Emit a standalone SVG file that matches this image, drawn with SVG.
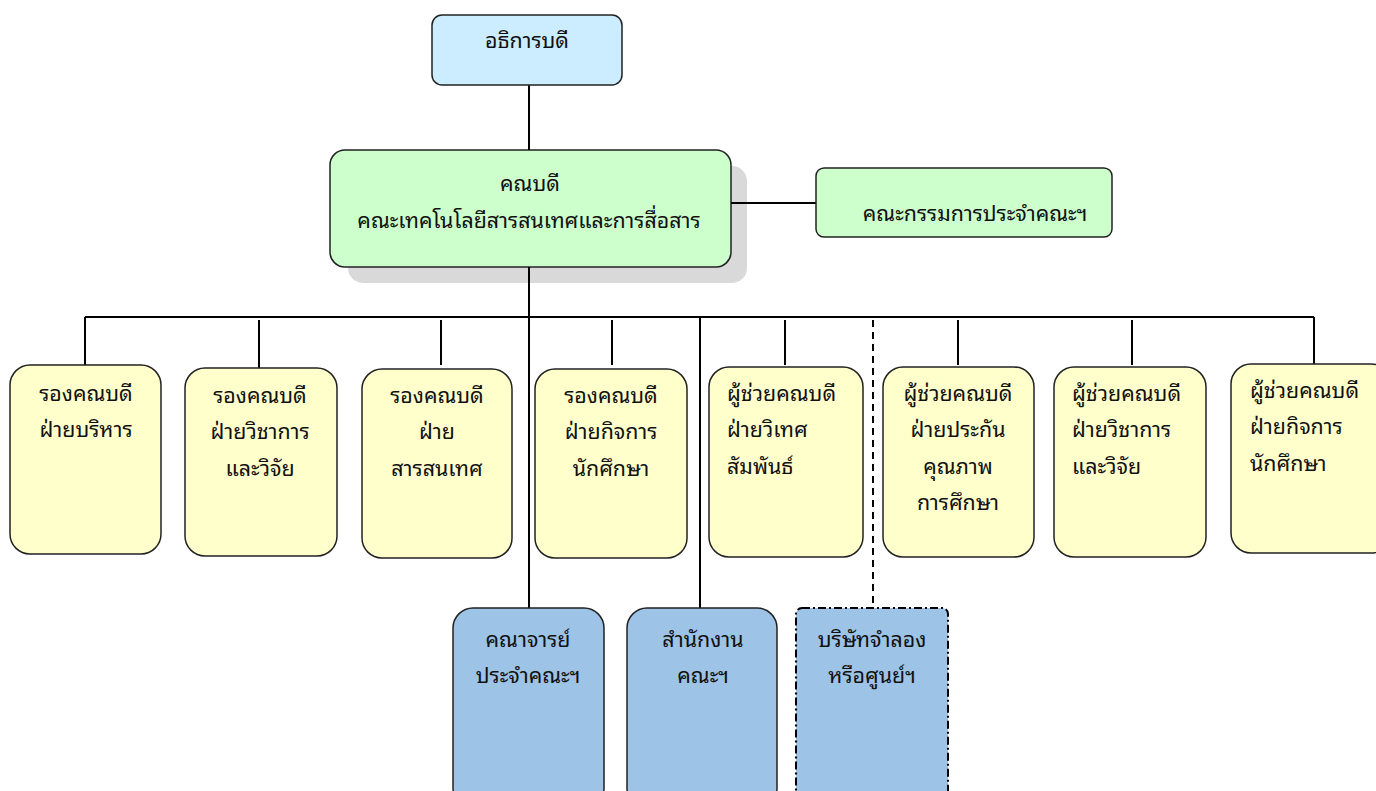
<svg xmlns="http://www.w3.org/2000/svg" width="1376" height="791" viewBox="0 0 1376 791">
<style>
text{font-family:"Noto Sans Thai Looped","Noto Sans Thai","Tahoma","Noto Sans","DejaVu Sans",sans-serif;font-size:21.4px;fill:#111;}
.c{text-anchor:middle;}
.ln{stroke:#000;stroke-width:2;fill:none;}
.dl{stroke:#000;stroke-width:2;fill:none;stroke-dasharray:7,5;}
.box{stroke:#222;stroke-width:1.5;}
.y{fill:#FFFFCC;}
.b{fill:#9DC3E6;}
.g{fill:#CCFFCC;}
</style>
<rect width="1376" height="791" fill="#fff"/>
<g id="n-dean">
<rect x="348" y="166" width="399" height="117" rx="15" fill="#D9D9D9"/>
<rect class="box g" x="330" y="150" width="401" height="117" rx="15" stroke-width="2"/>
<text class="c" x="530" y="191">คณบดี</text>
<text class="c" x="529" y="228">คณะเทคโนโลยีสารสนเทศและการสื่อสาร</text>
</g>
<g id="connectors">
<line class="ln" x1="529" y1="85" x2="529" y2="150"/>
<line class="ln" x1="731" y1="203" x2="816" y2="203"/>
<line class="ln" x1="529" y1="267" x2="529" y2="608"/>
<line class="ln" x1="85" y1="317" x2="1314" y2="317"/>
<line class="ln" x1="85" y1="317" x2="85" y2="365"/>
<line class="ln" x1="259" y1="320" x2="259" y2="368"/>
<line class="ln" x1="441" y1="320" x2="441" y2="365"/>
<line class="ln" x1="612" y1="320" x2="612" y2="365"/>
<line class="ln" x1="785" y1="320" x2="785" y2="365"/>
<line class="ln" x1="958" y1="320" x2="958" y2="365"/>
<line class="ln" x1="1132" y1="320" x2="1132" y2="365"/>
<line class="ln" x1="1314" y1="317" x2="1314" y2="364"/>
<line class="ln" x1="700" y1="317" x2="700" y2="608"/>
<line class="dl" x1="873" y1="320" x2="873" y2="608"/>
</g>
<g id="n-president">
<rect class="box" x="432" y="15" width="190" height="70" rx="10" fill="#CCECFF"/>
<text class="c" x="527" y="48">อธิการบดี</text>
</g>
<g id="n-committee">
<rect class="box g" x="816" y="168" width="296" height="69" rx="8"/>
<text class="c" x="975" y="221">คณะกรรมการประจำคณะฯ</text>
</g>
<g id="n-v1">
<rect class="box y" x="10" y="365" width="151" height="189" rx="20"/>
<text class="c" x="86" y="401">รองคณบดี</text>
<text class="c" x="86" y="437">ฝ่ายบริหาร</text>
</g>
<g id="n-v2">
<rect class="box y" x="185" y="368" width="152" height="188" rx="20"/>
<text class="c" x="260" y="403">รองคณบดี</text>
<text class="c" x="260" y="439">ฝ่ายวิชาการ</text>
<text class="c" x="260" y="476">และวิจัย</text>
</g>
<g id="n-v3">
<rect class="box y" x="362" y="369" width="150" height="189" rx="20"/>
<text class="c" x="437" y="403">รองคณบดี</text>
<text class="c" x="437" y="439">ฝ่าย</text>
<text class="c" x="437" y="476">สารสนเทศ</text>
</g>
<g id="n-v4">
<rect class="box y" x="535" y="369" width="152" height="189" rx="20"/>
<text class="c" x="611" y="403">รองคณบดี</text>
<text class="c" x="611" y="439">ฝ่ายกิจการ</text>
<text class="c" x="611" y="476">นักศึกษา</text>
</g>
<g id="n-a1">
<rect class="box y" x="709" y="367" width="154" height="190" rx="20"/>
<text x="727" y="401">ผู้ช่วยคณบดี</text>
<text x="727" y="437">ฝ่ายวิเทศ</text>
<text x="727" y="474">สัมพันธ์</text>
</g>
<g id="n-a2">
<rect class="box y" x="883" y="367" width="151" height="190" rx="20"/>
<text class="c" x="958" y="401">ผู้ช่วยคณบดี</text>
<text class="c" x="958" y="437">ฝ่ายประกัน</text>
<text class="c" x="958" y="474">คุณภาพ</text>
<text class="c" x="958" y="510">การศึกษา</text>
</g>
<g id="n-a3">
<rect class="box y" x="1054" y="367" width="152" height="190" rx="20"/>
<text x="1072" y="401">ผู้ช่วยคณบดี</text>
<text x="1072" y="437">ฝ่ายวิชาการ</text>
<text x="1072" y="474">และวิจัย</text>
</g>
<g id="n-a4">
<rect class="box y" x="1231" y="364" width="160" height="189" rx="20"/>
<text x="1250" y="398">ผู้ช่วยคณบดี</text>
<text x="1250" y="434">ฝ่ายกิจการ</text>
<text x="1250" y="471">นักศึกษา</text>
</g>
<g id="n-faculty">
<rect class="box b" x="453" y="608" width="151" height="200" rx="20"/>
<text class="c" x="528" y="647">คณาจารย์</text>
<text class="c" x="528" y="683">ประจำคณะฯ</text>
</g>
<g id="n-office">
<rect class="box b" x="627" y="608" width="150" height="200" rx="20"/>
<text class="c" x="703" y="647">สำนักงาน</text>
<text class="c" x="703" y="683">คณะฯ</text>
</g>
<g id="n-company">
<rect x="796" y="608" width="152" height="200" rx="6" fill="#9DC3E6" stroke="#000" stroke-width="2" stroke-dasharray="8,3,2,3"/>
<text class="c" x="872" y="647">บริษัทจำลอง</text>
<text class="c" x="872" y="683">หรือศูนย์ฯ</text>
</g>
</svg>
